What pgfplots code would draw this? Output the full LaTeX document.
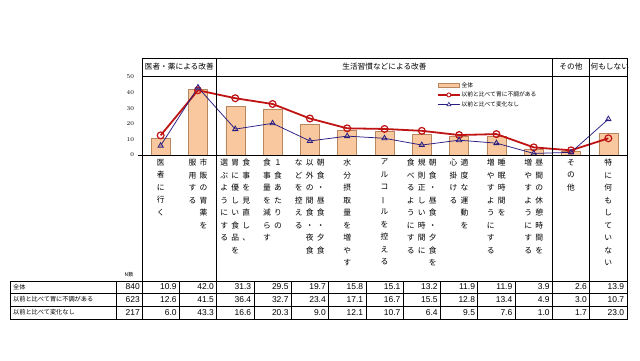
\documentclass[border=0pt]{standalone}
\usepackage{fontspec}
\setmainfont{Liberation Sans}
\newfontfamily\jp{Noto Sans CJK JP}
\usepackage{graphicx}
\usepackage{pgfplots}
\pgfplotsset{compat=1.18}

\definecolor{barfill}{RGB}{250,200,158}
\definecolor{bardraw}{RGB}{185,135,95}
\definecolor{redl}{RGB}{192,20,20}
\definecolor{bluel}{RGB}{40,30,130}

\makeatletter
\newcommand\vcol[1]{\vtop{\baselineskip=12.5bp\lineskiplimit=-100bp\lineskip=0pt\@tfor\vc@ch:=#1\do{\hbox to 10bp{\hss\vc@ch\hss}}}}
\makeatother
\newcommand\vbar{\rotatebox[origin=c]{90}{ー}}
\newcommand\vsp{\kern1bp}

\begin{document}
\begin{tikzpicture}
\begin{scope}[x=1bp,y=-1bp,shift={(-142,-155)}]
\fill[white] (0,0) rectangle (640,360);
\end{scope}

\begin{axis}[
  anchor=south west, scale only axis,
  width=485bp, height=78bp,
  xmin=-0.5, xmax=12.5, ymin=0, ymax=50,
  axis line style={draw=none}, major tick length=0pt,
  xtick=\empty, ytick={0,10,20,30,40,50},
  yticklabel style={font=\fontsize{6}{7}\selectfont, xshift=-4.5bp, text=black},
  clip=false,
  legend style={at={(0.602,0.975)}, anchor=north west, draw=none, fill=none,
    font=\jp\fontsize{5.8}{7}\selectfont, row sep=1.2bp, nodes={inner sep=1bp}},
  legend cell align=left,
]
\addplot[ybar, bar width=19bp, bar shift=0pt, fill=barfill, draw=bardraw, line width=0.5bp,
  legend image code/.code={\draw[fill=barfill, draw=bardraw, line width=0.5bp] (0bp,-2.2bp) rectangle (21bp,2.2bp);}]
  coordinates {(0,10.9) (1,42.0) (2,31.3) (3,29.5) (4,19.7) (5,15.8) (6,15.1) (7,13.2) (8,11.9) (9,11.9) (10,3.9) (11,2.6) (12,13.9)};
\addplot[color=redl, line width=1.8bp, mark=o, mark size=3.4bp, mark options={line width=1.2bp},
  legend image code/.code={\draw[redl, line width=1.4bp] (0bp,0bp) -- (22bp,0bp); \draw[redl, line width=0.9bp, fill=white] (11bp,0bp) circle (2bp);}]
  coordinates {(0,12.6) (1,41.5) (2,36.4) (3,32.7) (4,23.4) (5,17.1) (6,16.7) (7,15.5) (8,12.8) (9,13.4) (10,4.9) (11,3.0) (12,10.7)};
\addplot[color=bluel, line width=0.75bp, mark=triangle, mark size=3bp, mark options={line width=0.8bp},
  legend image code/.code={\draw[bluel, line width=0.7bp] (0bp,0bp) -- (22bp,0bp); \draw[bluel, line width=0.6bp, fill=white] (11bp,2.2bp) -- (13bp,-1.3bp) -- (9bp,-1.3bp) -- cycle;}]
  coordinates {(0,6.0) (1,43.3) (2,16.6) (3,20.3) (4,9.0) (5,12.1) (6,10.7) (7,6.4) (8,9.5) (9,7.6) (10,1.0) (11,1.7) (12,23.0)};
\legend{全体,以前と比べて胃に不調がある,以前と比べて変化なし}
\end{axis}

\begin{scope}[x=1bp,y=-1bp,shift={(-142,-155)}]
\def\cw{37.3}
% frame
\draw[line width=0.8bp] (142,58) -- (627,58);
\draw[line width=0.6bp] (142,76) -- (627,76);
\draw[line width=0.6bp] (138,155.5) -- (627,155.5);
\draw[line width=0.8bp] (142,58) -- (142,319);
\draw[line width=0.8bp] (627,58) -- (627,319);
\foreach \k in {2,11,12} { \draw[line width=0.8bp] ({142+\cw*\k},58) -- ({142+\cw*\k},281); }

% headers
\begin{scope}[every node/.style={font=\jp\fontsize{7.7}{9}\selectfont, inner sep=0}]
\node at ({142+\cw},67) {医者・薬による改善};
\node at ({142+\cw*6.5},67) {生活習慣などによる改善};
\node at ({142+\cw*11.5},67) {その他};
\node at ({142+\cw*12.5+1.5},67) {何もしない};
\end{scope}

% vertical category labels
\begin{scope}[every node/.style={font=\jp\fontsize{7.8}{9}\selectfont, inner sep=0, anchor=north}]
\node at ({142+\cw*0.5},159) {\hbox{\vcol{医者に行く}}};
\node at ({142+\cw*1.5},159) {\hbox{\vcol{服用する}\vsp\vcol{市販の胃薬を}}};
\node at ({142+\cw*2.5},159) {\hbox{\vcol{選ぶようにする}\vsp\vcol{胃に優しい食品を}\vsp\vcol{食事を見直し、}}};
\node at ({142+\cw*3.5},159) {\hbox{\vcol{食事量を減らす}\vsp\vcol{１食あたりの}}};
\node at ({142+\cw*4.5},159) {\hbox{\vcol{などを控える}\vsp\vcol{以外の間食・夜食}\vsp\vcol{朝食・昼食・夕食}}};
\node at ({142+\cw*5.5},159) {\hbox{\vcol{水分摂取量を増やす}}};
\node at ({142+\cw*6.5},159) {\hbox{\vcol{アルコ\vbar ルを控える}}};
\node at ({142+\cw*7.5},159) {\hbox{\vcol{食べるようにする}\vsp\vcol{規則正しい時間に}\vsp\vcol{朝食・昼食・夕食を}}};
\node at ({142+\cw*8.5},159) {\hbox{\vcol{心掛ける}\vsp\vcol{適度な運動を}}};
\node at ({142+\cw*9.5},159) {\hbox{\vcol{増やすようにする}\vsp\vcol{睡眠時間を}}};
\node at ({142+\cw*10.5},159) {\hbox{\vcol{増やすようにする}\vsp\vcol{昼間の休憩時間を}}};
\node at ({142+\cw*11.5},159) {\hbox{\vcol{その他}}};
\node at ({142+\cw*12.5},159) {\hbox{\vcol{特に何もしていない}}};
\end{scope}

% table
\draw[line width=0.9bp] (10,281) rectangle (627,319);
\draw[line width=0.6bp] (10,293) -- (627,293);
\draw[line width=0.6bp] (10,306) -- (627,306);
\draw[line width=0.6bp] (116,281) -- (116,319);
\foreach \k in {1,...,12} { \draw[line width=0.6bp] ({142+\cw*\k},281) -- ({142+\cw*\k},319); }
\node[font=\jp\fontsize{5}{6}\selectfont, inner sep=0] at (129,275) {N数};
\begin{scope}[every node/.style={font=\jp\fontsize{6.2}{7}\selectfont, inner sep=0, anchor=west}]
\node at (13,287) {全体};
\node at (13,299.5) {以前と比べて胃に不調がある};
\node at (13,312.5) {以前と比べて変化なし};
\end{scope}
\begin{scope}[every node/.style={font=\fontsize{8.5}{9}\selectfont, inner sep=0, anchor=east}]
\node at (140,287) {840};
\node at (140,299.5) {623};
\node at (140,312.5) {217};
\foreach \v [count=\i from 0] in {10.9,42.0,31.3,29.5,19.7,15.8,15.1,13.2,11.9,11.9,3.9,2.6,13.9}
  { \node at ({142+\cw*(\i+1)-2.5},287) {\v}; }
\foreach \v [count=\i from 0] in {12.6,41.5,36.4,32.7,23.4,17.1,16.7,15.5,12.8,13.4,4.9,3.0,10.7}
  { \node at ({142+\cw*(\i+1)-2.5},299.5) {\v}; }
\foreach \v [count=\i from 0] in {6.0,43.3,16.6,20.3,9.0,12.1,10.7,6.4,9.5,7.6,1.0,1.7,23.0}
  { \node at ({142+\cw*(\i+1)-2.5},312.5) {\v}; }
\end{scope}
\end{scope}
\end{tikzpicture}
\end{document}
